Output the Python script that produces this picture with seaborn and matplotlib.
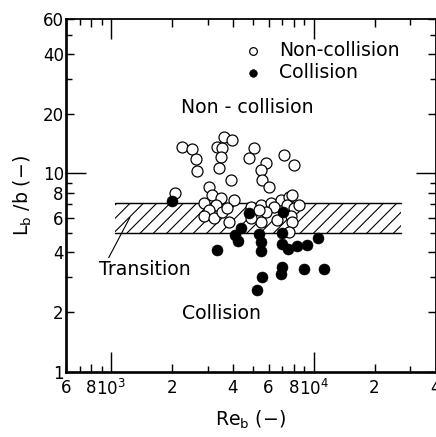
import pandas as pd
import matplotlib
matplotlib.use('Agg')
import matplotlib.pyplot as plt
import seaborn as sns

# Non-collision points (Re_b, L_b/b)
open_re = [2234, 2500, 2616, 2645, 2064, 3350, 3546, 3627, 3969, 3506,
           3428, 3925, 5085, 4806, 5823, 5503, 5566, 6022, 7130, 7985,
           3063, 3168, 3506, 2895, 4060, 3314, 3063, 2895, 3240, 3546,
           3750, 3837, 4915, 5503, 6160, 6893, 7544, 7380, 7985, 8446,
           6370, 5823, 6590, 7718, 7805, 5503, 4915, 7544, 5380, 7805]
open_l = [13.6, 13.3, 11.8, 10.3, 7.96, 13.6, 13.4, 15.3, 14.7, 12.1,
          10.65, 9.27, 13.4, 11.95, 11.3, 10.4, 9.27, 8.54, 12.4, 11.0,
          8.54, 7.78, 7.52, 7.09, 7.34, 6.93, 6.54, 6.10, 5.96, 6.39,
          6.69, 5.69, 6.77, 6.93, 7.09, 7.34, 7.60, 6.93, 6.69, 6.93,
          6.77, 6.39, 5.82, 6.10, 5.69, 5.69, 5.96, 5.07, 6.54, 7.78]

# Collision points
fill_re = [1995, 4806, 7051, 4106, 4392, 4246, 3350, 5380, 5503, 5503,
           6971, 6971, 7460, 8258, 9242, 10580, 6971, 6893, 8933, 11320,
           5566, 5260]
fill_l = [7.3, 6.32, 6.39, 4.90, 5.31, 4.56, 4.11, 4.95, 4.51, 4.06,
          5.01, 4.41, 4.16, 4.31, 4.36, 4.73, 3.37, 3.11, 3.30, 3.30,
          3.00, 2.58]

# Transition band
band_re = [1050, 27000]
band_lo = [5.0, 5.0]
band_hi = [7.1, 7.1]

xticks = [600, 800, 1000, 2000, 4000, 6000, 8000, 10000, 20000, 40000]
xlabels = ['6', '8', r'10$^3$', '2', '4', '6', '8', r'10$^4$', '2', '4']
xminor = [700, 900, 3000, 5000, 7000, 9000, 30000]
yticks = [1, 2, 4, 6, 8, 10, 20, 40, 60]
ylabels = ['1', '2', '4', '6', '8', '10', '20', '40', '60']
yminor = [3, 5, 7, 9, 30, 50]

df_open = pd.DataFrame({'Re': open_re, 'L': open_l})
df_fill = pd.DataFrame({'Re': fill_re, 'L': fill_l})

sns.set_style('ticks')
plt.rcParams['font.family'] = ['DejaVu Sans']
plt.rcParams['mathtext.default'] = 'regular'
plt.rcParams['text.color'] = 'black'
plt.rcParams['axes.labelcolor'] = 'black'
plt.rcParams['xtick.color'] = 'black'
plt.rcParams['ytick.color'] = 'black'

fig = plt.figure(figsize=(5.45, 5.4625), dpi=80)
ax = fig.add_axes([66 / 436, 65 / 437, 369.5 / 436, 353 / 437])
ax.set_xscale('log')
ax.set_yscale('log')

# hatched transition zone
ax.fill_between(band_re, band_lo, band_hi, facecolor='none', edgecolor='black',
                hatch='//', linewidth=0, zorder=1)
ax.plot(band_re, band_hi, color='black', lw=1.3, zorder=1)
ax.plot(band_re, band_lo, color='black', lw=1.3, zorder=1)

sns.scatterplot(data=df_open, x='Re', y='L', ax=ax, marker='o', s=98,
                facecolor='white', edgecolor='black', linewidth=1.1,
                label='Non-collision', zorder=3)
sns.scatterplot(data=df_fill, x='Re', y='L', ax=ax, marker='o', s=98,
                color='black', edgecolor='black', linewidth=0.5,
                label='Collision', zorder=4)

ax.set_xlim(600, 40000)
ax.set_ylim(1, 60)
ax.set_xticks(xticks)
ax.set_xticklabels(xlabels)
ax.set_xticks(xminor, minor=True)
ax.set_xticklabels([], minor=True)
ax.set_yticks(yticks)
ax.set_yticklabels(ylabels)
ax.set_yticks(yminor, minor=True)
ax.set_yticklabels([], minor=True)

ax.tick_params(which='both', direction='in', top=True, right=True,
               width=1.3, labelsize=15, color='black')
ax.tick_params(axis='x', which='major', length=7, pad=6)
ax.tick_params(axis='y', which='major', length=7, pad=2)
ax.tick_params(which='minor', length=5)

# longer ticks at the decades
for i, t in enumerate(ax.xaxis.get_major_ticks()):
    if xticks[i] in (1000, 10000):
        t.tick1line.set_markersize(18)
        t.tick2line.set_markersize(18)
for i, t in enumerate(ax.yaxis.get_major_ticks()):
    if yticks[i] == 10:
        t.tick1line.set_markersize(18)
        t.tick2line.set_markersize(18)

for side, sp in ax.spines.items():
    sp.set_visible(True)
    sp.set_color('black')
    sp.set_linewidth(2.4 if side in ('left', 'bottom') else 1.6)

ax.set_xlabel(r'Re$_b$ (−)', fontsize=17, labelpad=9)
ax.set_ylabel(r'L$_b$ /b (−)', fontsize=17, labelpad=8)

ax.text(4732, 21.6, 'Non - collision', fontsize=17, ha='center', va='center')
ax.text(3523, 1.98, 'Collision', fontsize=17, ha='center', va='center')
ax.annotate('Transition', xy=(1240, 6.0), xytext=(1471, 3.27),
            fontsize=17, ha='center', va='center',
            arrowprops=dict(arrowstyle='-', color='black', lw=1,
                            relpos=(0.09, 1.0), shrinkA=0, shrinkB=0))

ax.legend(loc='upper right', bbox_to_anchor=(0.95, 0.985), frameon=False,
          fontsize=17, markerscale=0.7, handletextpad=0.4,
          borderaxespad=0.5, labelspacing=0.15)

fig.savefig('out.png', dpi=80)
